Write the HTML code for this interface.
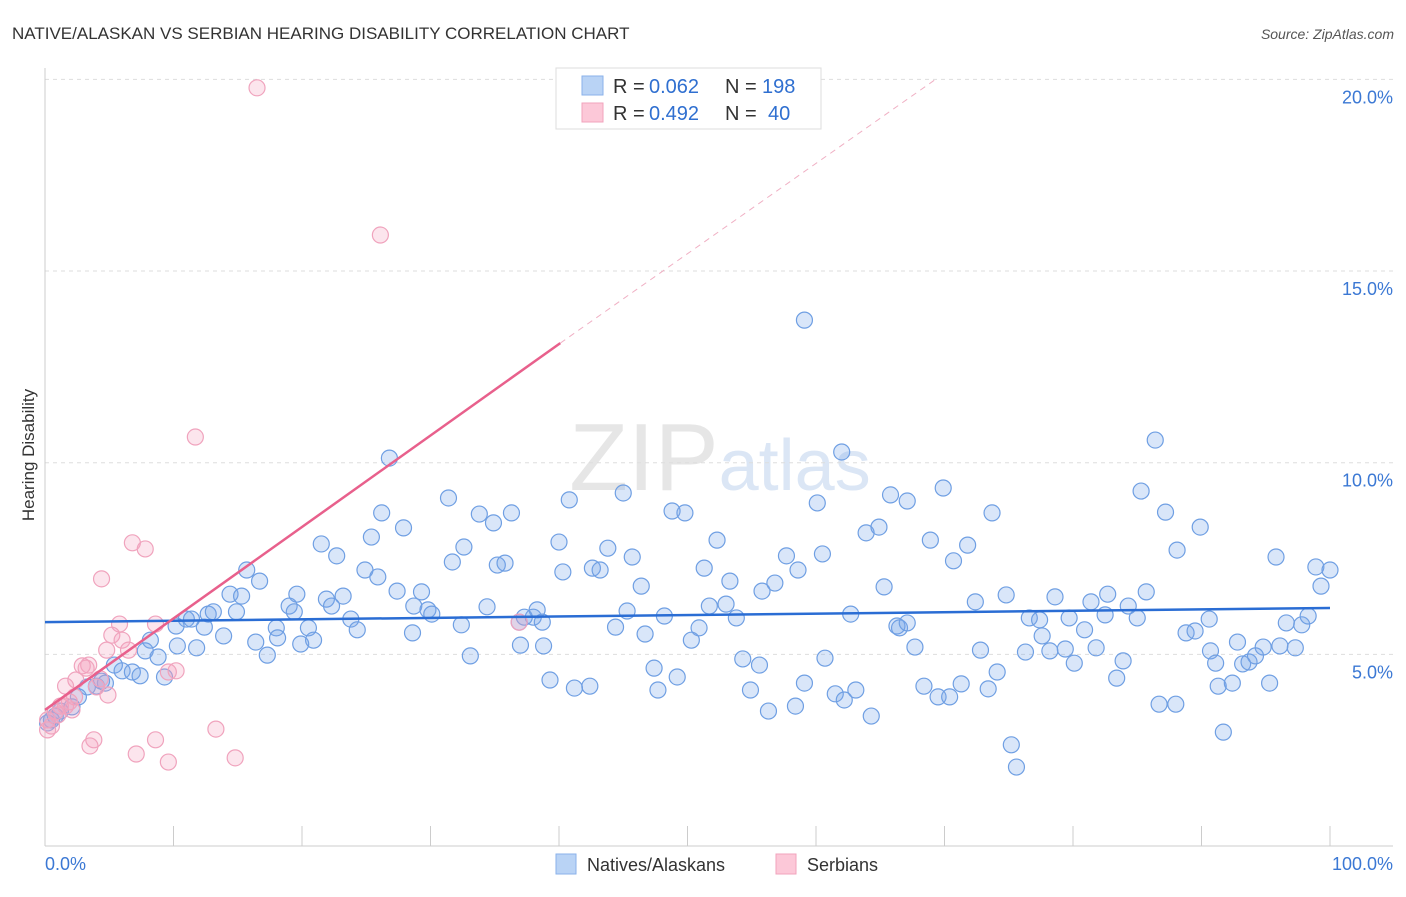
<!DOCTYPE html>
<html><head><meta charset="utf-8"><style>
body{margin:0;background:#fff;font-family:"Liberation Sans",sans-serif;}
svg text{font-family:"Liberation Sans",sans-serif;}
</style></head><body>
<svg id="chart" width="1406" height="892">
<text x="12" y="39" font-size="17" fill="#333">NATIVE/ALASKAN VS SERBIAN HEARING DISABILITY CORRELATION CHART</text>
<text x="1394" y="39" font-size="14" fill="#555" font-style="italic" text-anchor="end">Source: ZipAtlas.com</text>
<text x="720" y="490" font-size="96" fill="#e6e6e6" text-anchor="middle" font-family="Liberation Serif">ZIP<tspan fill="#dbe6f5" font-family="Liberation Sans" font-size="72">atlas</tspan></text>
<text transform="translate(34,455) rotate(-90)" font-size="17" fill="#333" text-anchor="middle">Hearing Disability</text>
<g id="grid"></g><g id="axes"></g><g id="marks"></g><g id="trend"></g>
<g>
<rect x="556" y="68" width="265" height="61" fill="#fff" stroke="#ddd"/>
<rect x="582" y="76" width="21" height="19" fill="#b9d3f5" stroke="#8ab2ea"/>
<rect x="582" y="103" width="21" height="19" fill="#fcc8d8" stroke="#f2a3bc"/>
<text x="613" y="93" font-size="20" fill="#333">R =</text>
<text x="649" y="93" font-size="20" fill="#2f6fd0">0.062</text>
<text x="725" y="93" font-size="20" fill="#333">N =</text>
<text x="762" y="93" font-size="20" fill="#2f6fd0">198</text>
<text x="613" y="120" font-size="20" fill="#333">R =</text>
<text x="649" y="120" font-size="20" fill="#2f6fd0">0.492</text>
<text x="725" y="120" font-size="20" fill="#333">N =</text>
<text x="768" y="120" font-size="20" fill="#2f6fd0">40</text>
</g>
<g>
<rect x="556" y="854" width="20" height="20" fill="#b9d3f5" stroke="#8ab2ea"/>
<text x="587" y="871" font-size="18" fill="#333">Natives/Alaskans</text>
<rect x="776" y="854" width="20" height="20" fill="#fcc8d8" stroke="#f2a3bc"/>
<text x="807" y="871" font-size="18" fill="#333">Serbians</text>
</g>
</svg>
<script>
const blueX=[59.1,62.0,86.4,26.8,31.4,40.8,45.0,60.1,65.8,67.1,69.9,85.3,26.2,33.8,34.9,36.3,48.8,49.8,63.9,64.9,73.7,87.2,89.9,27.9,21.5,22.7,25.4,32.6,40.0,43.8,45.7,52.3,57.7,60.5,68.9,71.8,88.1,95.8,15.7,16.7,24.9,25.9,31.7,35.2,35.8,40.3,42.6,43.2,46.4,51.3,53.3,56.8,58.6,65.3,70.7,98.9,100.0,99.3,14.4,15.3,19.6,21.9,23.2,27.4,29.3,28.7,29.8,30.1,34.4,38.3,38.0,45.3,48.2,51.7,53.0,53.8,55.8,62.7,72.4,74.8,78.6,81.4,82.7,84.3,85.7,76.6,77.4,79.7,82.5,85.0,90.6,96.6,97.8,98.3,11.0,11.4,12.7,13.1,14.9,19.0,19.4,22.3,23.8,24.3,28.6,32.4,36.9,37.3,38.7,44.4,46.7,50.9,66.3,66.5,67.1,77.6,80.9,88.8,89.5,92.8,94.8,96.1,97.3,10.2,12.4,13.9,16.4,18.0,18.1,20.5,20.9,19.9,8.2,7.8,11.8,10.3,8.8,17.3,33.1,37.0,38.8,50.3,54.3,55.6,60.7,67.7,72.8,76.3,78.2,79.4,80.1,81.8,83.9,90.7,91.1,93.2,93.7,94.2,5.4,6.0,6.8,7.4,9.3,4.7,3.3,4.0,4.4,2.6,2.1,1.2,0.8,0.5,0.2,39.3,41.2,42.4,47.4,47.7,49.2,54.9,59.1,61.5,62.2,63.1,68.4,69.5,70.4,71.3,73.4,74.1,83.4,91.3,92.4,95.3,56.3,58.4,64.3,86.7,88.0,75.2,75.6,91.7];
const blueY=[13.72,10.28,10.59,10.12,9.08,9.03,9.21,8.95,9.16,9.00,9.34,9.26,8.69,8.66,8.43,8.69,8.74,8.69,8.17,8.32,8.69,8.71,8.32,8.30,7.88,7.57,8.06,7.80,7.93,7.77,7.54,7.98,7.57,7.62,7.98,7.85,7.72,7.54,7.20,6.91,7.20,7.02,7.41,7.33,7.38,7.15,7.25,7.20,6.78,7.25,6.91,6.86,7.20,6.76,7.44,7.28,7.20,6.78,6.57,6.52,6.57,6.44,6.52,6.65,6.63,6.26,6.16,6.05,6.24,6.16,5.97,6.13,6.00,6.26,6.31,5.95,6.65,6.05,6.37,6.55,6.50,6.37,6.57,6.26,6.63,5.95,5.90,5.95,6.03,5.95,5.92,5.82,5.77,6.00,5.92,5.92,6.05,6.11,6.11,6.26,6.11,6.26,5.92,5.64,5.56,5.77,5.84,5.97,5.84,5.71,5.53,5.69,5.74,5.69,5.82,5.48,5.64,5.56,5.61,5.32,5.19,5.22,5.17,5.74,5.71,5.48,5.32,5.69,5.43,5.69,5.37,5.27,5.37,5.09,5.17,5.22,4.93,4.98,4.96,5.24,5.22,5.37,4.88,4.72,4.90,5.19,5.11,5.06,5.09,5.14,4.77,5.17,4.83,5.09,4.77,4.75,4.80,4.96,4.72,4.57,4.54,4.44,4.41,4.25,4.15,4.17,4.30,3.89,3.63,3.52,3.39,3.29,3.21,4.33,4.12,4.17,4.64,4.07,4.41,4.07,4.25,3.97,3.81,4.07,4.17,3.89,3.89,4.23,4.10,4.54,4.38,4.17,4.25,4.25,3.52,3.65,3.39,3.70,3.70,2.64,2.06,2.97];
const pinkX=[16.5,26.1,11.7,6.8,7.8,4.4,5.8,8.6,5.2,6.0,4.8,6.5,10.2,3.4,2.9,3.2,2.4,4.3,1.6,4.0,4.9,2.3,1.9,1.2,0.8,1.6,0.2,0.5,13.3,3.8,3.5,8.6,7.1,9.6,14.8,36.9,9.6,0.2,1.0,2.1];
const pinkY=[19.78,15.94,10.67,7.91,7.75,6.97,5.79,5.79,5.50,5.37,5.11,5.11,4.57,4.72,4.70,4.64,4.33,4.36,4.17,4.15,3.94,3.89,3.76,3.65,3.50,3.65,3.29,3.13,3.05,2.77,2.61,2.77,2.40,2.19,2.30,5.84,4.54,3.03,3.42,3.55];
const yTicks=[5,10,15,20];
const yTickLabels=["5.0%","10.0%","15.0%","20.0%"];
const blueTrendX=[0,100], blueTrendY=[5.84,6.21];
const pinkTrendX=[0,40.1], pinkTrendY=[3.55,13.12];
const pinkDashX=[40.1,69.3], pinkDashY=[13.12,20.0];

const NS="http://www.w3.org/2000/svg";
const sx=v=>45+v*12.85, sy=v=>846-v*38.33;
function mk(tag,attrs,parent){const e=document.createElementNS(NS,tag);for(const k in attrs)e.setAttribute(k,attrs[k]);document.getElementById(parent).appendChild(e);return e;}
yTicks.forEach((t,i)=>{
 const g=mk('line',{x1:45,x2:1393,y1:sy(t),y2:sy(t),stroke:'#ddd','stroke-dasharray':'4,4'},'grid');
 
 
 const l=mk('text',{x:1393,y:sy(t)+24,'font-size':18,fill:'#3b78d4','text-anchor':'end'},'axes');
 l.textContent=yTickLabels[i];
 
 
});
let a=mk('line',{x1:45,x2:45,y1:68,y2:846,stroke:'#ccc'},'axes');


a=mk('line',{x1:45,x2:1393,y1:846,y2:846,stroke:'#ccc'},'axes');


for(let k=1;k<=10;k++){const t=mk('line',{x1:sx(k*10),x2:sx(k*10),y1:826,y2:846,stroke:'#ccc'},'axes');
 
 }
let xl=mk('text',{x:45,y:870,'font-size':18,fill:'#3b78d4'},'axes');xl.textContent='0.0%';


xl=mk('text',{x:1393,y:870,'font-size':18,fill:'#3b78d4','text-anchor':'end'},'axes');xl.textContent='100.0%';


blueX.forEach((x,i)=>{const c=mk('circle',{cx:sx(x),cy:sy(blueY[i]),r:8,fill:'rgba(120,165,235,0.28)',stroke:'#6f9fe3','stroke-width':1.2},'marks');
 
 });
pinkX.forEach((x,i)=>{const c=mk('circle',{cx:sx(x),cy:sy(pinkY[i]),r:8,fill:'rgba(245,160,190,0.28)',stroke:'#f0a3bd','stroke-width':1.2},'marks');
 
 });
let t=mk('line',{x1:sx(blueTrendX[0]),y1:sy(blueTrendY[0]),x2:sx(blueTrendX[1]),y2:sy(blueTrendY[1]),stroke:'#2a6dd4','stroke-width':2.5},'trend');


t=mk('line',{x1:sx(pinkTrendX[0]),y1:sy(pinkTrendY[0]),x2:sx(pinkTrendX[1]),y2:sy(pinkTrendY[1]),stroke:'#e8608c','stroke-width':2.5},'trend');


t=mk('line',{x1:sx(pinkDashX[0]),y1:sy(pinkDashY[0]),x2:sx(pinkDashX[1]),y2:sy(pinkDashY[1]),stroke:'#f0b0c4','stroke-width':1,'stroke-dasharray':'6,5'},'trend');


</script>
</body></html>
